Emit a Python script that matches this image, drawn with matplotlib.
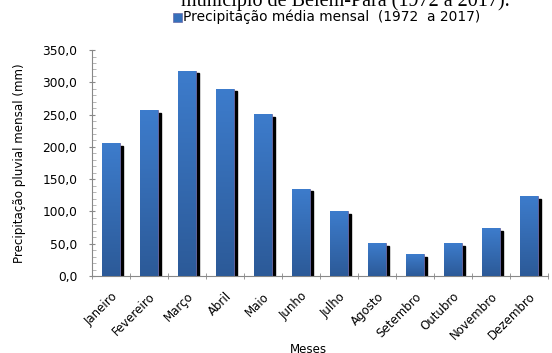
import matplotlib
matplotlib.use("Agg")
import matplotlib.pyplot as plt
import numpy as np
from matplotlib.ticker import MultipleLocator, FuncFormatter
from matplotlib.patches import Rectangle

meses = ["Janeiro", "Fevereiro", "Março", "Abril", "Maio", "Junho", "Julho",
         "Agosto", "Setembro", "Outubro", "Novembro", "Dezembro"]
precip = [206.0, 257.0, 318.0, 290.0, 251.0, 135.0, 100.0, 51.0, 34.0, 51.0, 74.0, 124.0]
legenda = "Precipitação média mensal  (1972  a 2017)"
titulo = "município de Belém-Pará (1972 a 2017)."

plt.rcParams['font.family'] = ['DejaVu Sans']

fig = plt.figure(figsize=(5.52, 3.53), dpi=100)
ax = fig.add_axes([0.1667, 0.218, 0.826, 0.64])

x = np.arange(len(meses))
w = 0.45
grad = np.linspace(0, 1, 100).reshape(-1, 1)
cmap = matplotlib.colors.LinearSegmentedColormap.from_list("b", ["#2c5a98", "#3d7ccc"])

for xi, v in zip(x, precip):
    # sombra
    ax.add_patch(Rectangle((xi - w / 2 + 0.1, 0), w, v - 4, color="black", zorder=2))
    bar = ax.bar(xi, v, width=w, color="#3670bb", edgecolor="#6a6aa8", linewidth=0.6, zorder=3)[0]
    im = ax.imshow(grad, extent=[xi - w / 2, xi + w / 2, 0, v], origin="lower",
                   cmap=cmap, aspect="auto", zorder=3.5)
    im.set_clip_path(bar)

ax.set_xlim(-0.5, len(meses) - 0.5)
ax.set_ylim(0, 350)
ax.yaxis.set_major_locator(MultipleLocator(50))
ax.yaxis.set_minor_locator(MultipleLocator(10))
ax.yaxis.set_major_formatter(FuncFormatter(lambda v, p: f"{v:.1f}".replace(".", ",")))

ax.set_xticks(x)
ax.set_xticklabels(meses, rotation=45, ha="right", rotation_mode="anchor", fontsize=8.5)
ax.set_xticks(np.arange(-0.5, len(meses), 1), minor=True)
ax.tick_params(axis="x", which="major", length=0, pad=10)
ax.tick_params(axis="x", which="minor", length=4, direction="inout", color="#888888")
ax.tick_params(axis="y", which="major", length=5, direction="inout", color="#888888",
               labelsize=8.8, pad=8)
ax.tick_params(axis="y", which="minor", length=3, direction="in", color="#aaaaaa")

for s in ["top", "right"]:
    ax.spines[s].set_visible(False)
for s in ["left", "bottom"]:
    ax.spines[s].set_color("#888888")
    ax.spines[s].set_linewidth(0.8)

ax.set_ylabel("Precipitação pluvial mensal (mm)", fontsize=8.6, labelpad=12)
ax.set_xlabel("Meses", fontsize=8.6, labelpad=0)
ax.xaxis.set_label_coords(0.474, -0.295)

# legenda
fig.patches.append(Rectangle((0.313, 0.938), 0.0163, 0.026, transform=fig.transFigure,
                             facecolor="#3670bb", edgecolor="#6a6aa8", lw=0.5))
fig.text(0.3315, 0.952, legenda, fontsize=9.9, va="center", ha="left")

fig.text(0.625, 0.984, titulo, fontsize=14.5, family=["Liberation Serif"],
         ha="center", va="baseline")

fig.savefig("out.png", dpi=100)
